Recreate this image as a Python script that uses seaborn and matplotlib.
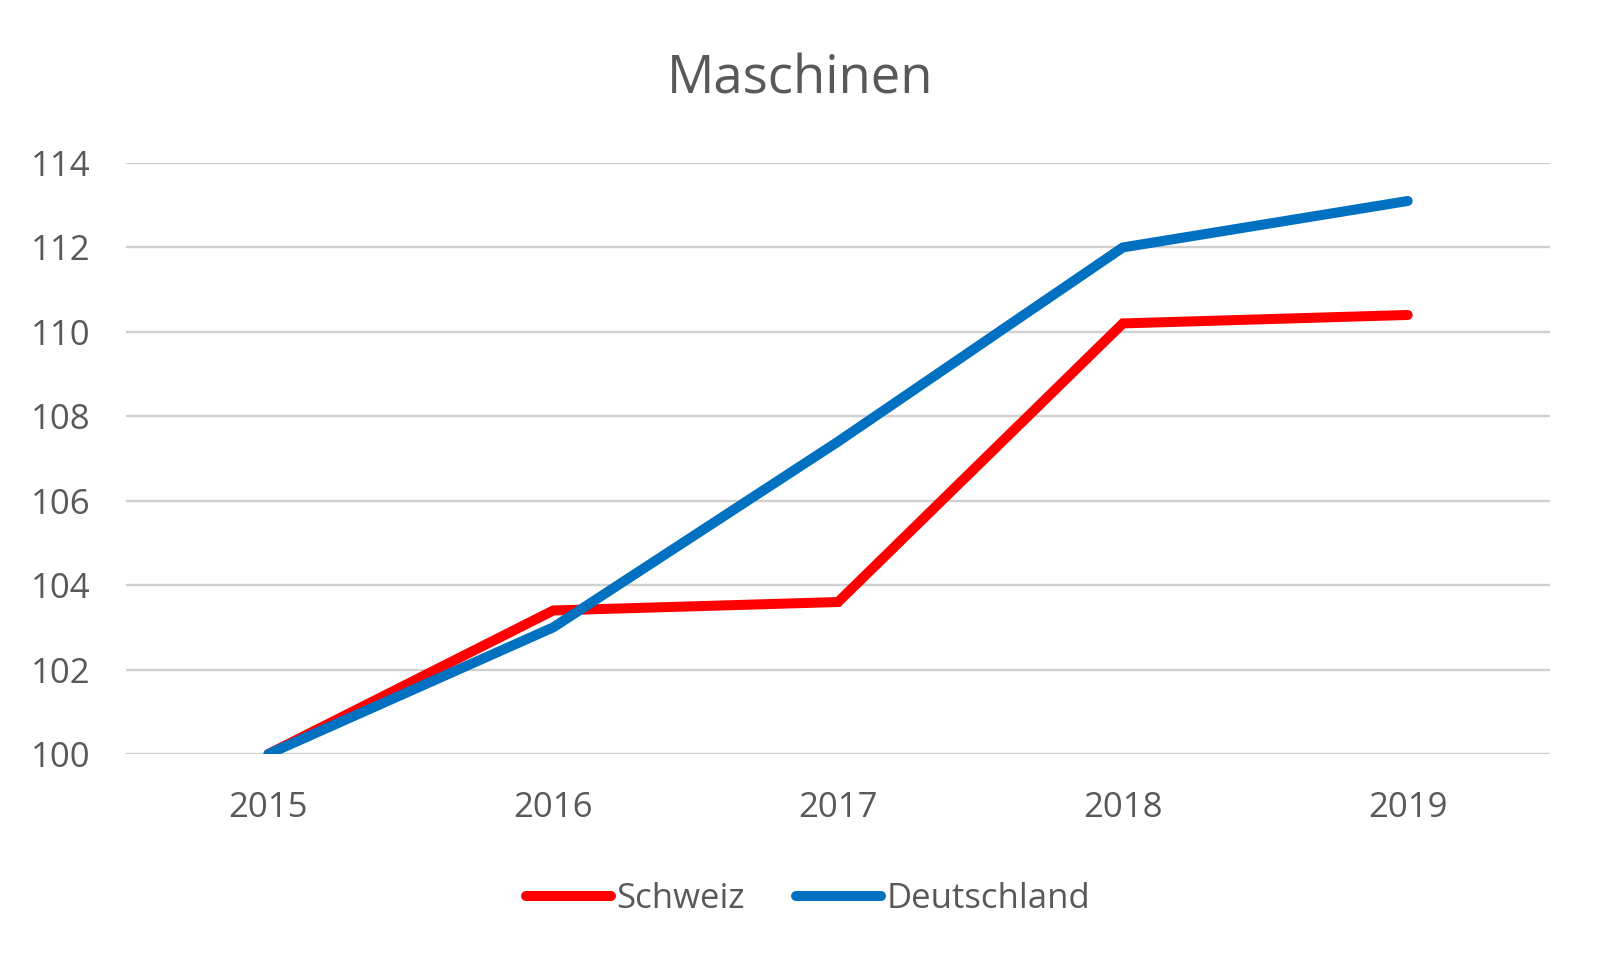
import matplotlib
matplotlib.use("Agg")
import matplotlib.pyplot as plt
import pandas as pd
import seaborn as sns

# Data
years = ["2015", "2016", "2017", "2018", "2019"]
schweiz = [100.0, 103.4, 103.6, 110.2, 110.4]
deutschland = [100.0, 103.0, 107.4, 112.0, 113.1]
series_names = ["Schweiz", "Deutschland"]
yticks = [100, 102, 104, 106, 108, 110, 112, 114]

df = pd.DataFrame(
    {
        "Jahr": years * 2,
        "Wert": schweiz + deutschland,
        "Land": [series_names[0]] * len(years) + [series_names[1]] * len(years),
    }
)

sns.set_theme(style="white")
plt.rcParams["font.family"] = ["Open Sans", "DejaVu Sans"]
text_color = "#595959"

fig = plt.figure(figsize=(16, 9.6), dpi=100)
ax = fig.add_axes([0.0788, 0.2146, 0.89, 0.6156])

sns.lineplot(
    data=df,
    x="Jahr",
    y="Wert",
    hue="Land",
    palette={"Schweiz": "#FF0000", "Deutschland": "#0070C0"},
    linewidth=7.2,
    sort=False,
    ax=ax,
    solid_capstyle="round",
    solid_joinstyle="miter",
)

ax.set_xlim(-0.5, len(years) - 0.5)
ax.set_ylim(100, 114)
ax.set_yticks(yticks)
ax.set_yticklabels([str(t) for t in yticks])
ax.set_xlabel("")
ax.set_ylabel("")
ax.grid(axis="y", color="#D0D0D0", linewidth=1.7)
ax.set_axisbelow(True)
for s in ax.spines.values():
    s.set_visible(False)
ax.tick_params(axis="x", length=0, pad=27, labelsize=25, labelcolor=text_color)
ax.tick_params(axis="y", length=0, pad=26, labelsize=25, labelcolor=text_color)

fig.text(0.5, 1 - 93 / 960, "Maschinen", ha="center", va="baseline",
         fontsize=38, color=text_color)

ax.get_legend().remove()
leg = fig.legend(
    *ax.get_legend_handles_labels(),
    loc="center",
    bbox_to_anchor=(0.505, 1 - 899 / 960),
    ncol=2,
    frameon=False,
    fontsize=25,
    handlelength=2.45,
    handletextpad=0.15,
    columnspacing=1.5,
)
for t in leg.get_texts():
    t.set_color(text_color)
for line in leg.get_lines():
    line.set_linewidth(7.2)
    line.set_solid_capstyle("round")

fig.savefig("out.png", dpi=100)
